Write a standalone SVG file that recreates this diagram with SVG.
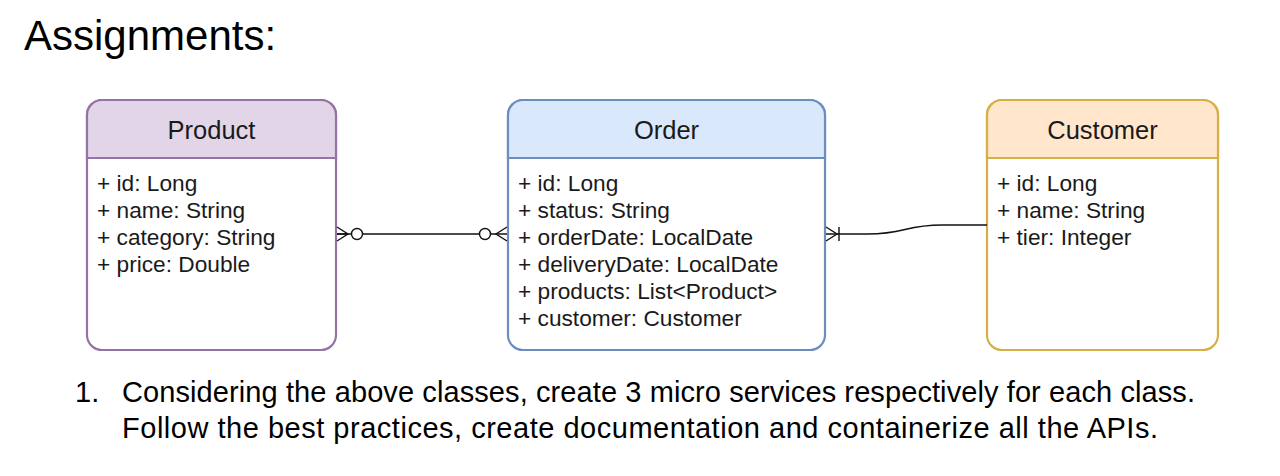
<svg xmlns="http://www.w3.org/2000/svg" width="1280" height="476" viewBox="0 0 1280 476">
<defs>
<style>
text{font-family:"Liberation Sans",Arial,sans-serif;}
.title{font-size:42px;fill:#000;}
.para{font-size:29px;fill:#000;}
.hdr{font-size:25.5px;fill:#1a1a1a;text-anchor:middle;}
.attr{font-size:22.7px;fill:#1a1a1a;}
.box{fill:#fff;stroke-width:2.2;}
.conn{fill:none;stroke:#111;stroke-width:1.4;}
.circ{fill:#fff;stroke:#111;stroke-width:1.4;}
</style>
</defs>
<rect width="1280" height="476" fill="#fff"/>
<text class="title" x="24" y="50">Assignments:</text>

<g id="product">
<rect class="box" x="87" y="100" width="249" height="250" rx="15" stroke="#9673a6"/>
<path d="M87,158 V115 A15,15 0 0 1 102,100 H321 A15,15 0 0 1 336,115 V158 Z" fill="#e1d5e7" stroke="#9673a6" stroke-width="2.2"/>
<text class="hdr" x="211.5" y="139">Product</text>
<text class="attr" x="97" y="191">+ id: Long</text>
<text class="attr" x="97" y="218">+ name: String</text>
<text class="attr" x="97" y="245">+ category: String</text>
<text class="attr" x="97" y="272">+ price: Double</text>
</g>

<g id="order">
<rect class="box" x="508" y="100" width="317" height="250" rx="15" stroke="#6c8ebf"/>
<path d="M508,158 V115 A15,15 0 0 1 523,100 H810 A15,15 0 0 1 825,115 V158 Z" fill="#dae8fc" stroke="#6c8ebf" stroke-width="2.2"/>
<text class="hdr" x="666.5" y="139">Order</text>
<text class="attr" x="518" y="191">+ id: Long</text>
<text class="attr" x="518" y="218">+ status: String</text>
<text class="attr" x="518" y="245">+ orderDate: LocalDate</text>
<text class="attr" x="518" y="272">+ deliveryDate: LocalDate</text>
<text class="attr" x="518" y="299">+ products: List&lt;Product&gt;</text>
<text class="attr" x="518" y="326">+ customer: Customer</text>
</g>

<g id="customer">
<rect class="box" x="987" y="100" width="231" height="250" rx="15" stroke="#d6b044"/>
<path d="M987,158 V115 A15,15 0 0 1 1002,100 H1203 A15,15 0 0 1 1218,115 V158 Z" fill="#ffe6cc" stroke="#d6b044" stroke-width="2.2"/>
<text class="hdr" x="1102.5" y="139">Customer</text>
<text class="attr" x="997" y="191">+ id: Long</text>
<text class="attr" x="997" y="218">+ name: String</text>
<text class="attr" x="997" y="245">+ tier: Integer</text>
</g>

<g id="connectors">
<g id="product-order">
<path class="conn" d="M337,234 H507"/>
<path class="conn" d="M337,227 L348,234 L337,241 M337,234 H348"/>
<circle class="circ" cx="357" cy="234" r="5.5"/>
<circle class="circ" cx="485" cy="234" r="5.5"/>
<path class="conn" d="M507,227 L496,234 L507,241"/>
</g>
<g id="order-customer">
<path class="conn" d="M826,234 H868 C905,234 905,225 942,225 H987"/>
<path class="conn" d="M826,227 L837,234 L826,241 M839,227 V241"/>
</g>
</g>

<text class="para" x="75" y="402">1.</text>
<text class="para" x="122" y="402" textLength="1073" lengthAdjust="spacing">Considering the above classes, create 3 micro services respectively for each class.</text>
<text class="para" x="122" y="438" textLength="1036" lengthAdjust="spacing">Follow the best practices, create documentation and containerize all the APIs.</text>
</svg>
